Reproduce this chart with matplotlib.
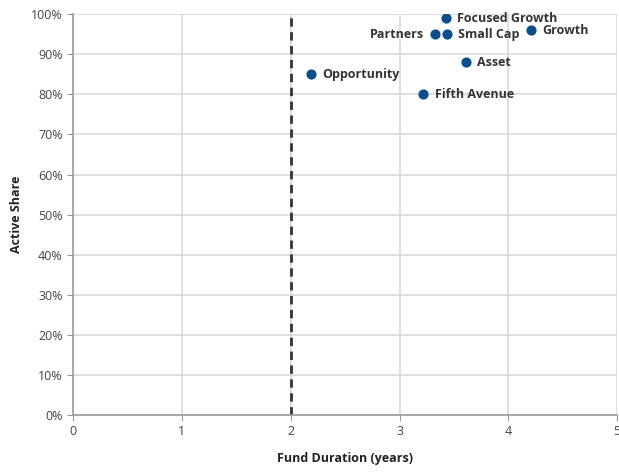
import matplotlib
matplotlib.use("Agg")
import matplotlib.pyplot as plt
from matplotlib.ticker import PercentFormatter

plt.rcParams['font.family'] = ['Open Sans', 'DejaVu Sans']

# Fonds : durée (années) et part active (%)
funds = ['Focused Growth', 'Partners', 'Small Cap', 'Growth', 'Asset', 'Opportunity', 'Fifth Avenue']
duration = [3.43, 3.33, 3.44, 4.21, 3.61, 2.19, 3.22]
active_share = [99, 95, 95, 96, 88, 85, 80]
label_left = ['Partners']

fig = plt.figure(figsize=(6.19, 4.73), dpi=100)
ax = fig.add_axes([0.118, 0.1226, 0.879, 0.8474])

ax.scatter(duration, active_share, s=40, color='#0b4f8a', zorder=3)
ax.axvline(2, color='#333333', linestyle=(0, (3, 2)), linewidth=2, zorder=2)

for name, xv, yv in zip(funds, duration, active_share):
    if name in label_left:
        ax.annotate(name, (xv, yv), xytext=(-8, 0), textcoords='offset points',
                    ha='right', va='center', fontsize=9, fontweight='bold', color='#333333')
    else:
        ax.annotate(name, (xv, yv), xytext=(8, 0), textcoords='offset points',
                    ha='left', va='center', fontsize=9, fontweight='bold', color='#333333')

ax.set_xlim(0, 5)
ax.set_ylim(0, 100)
ax.set_xticks(range(0, 6))
ax.set_yticks(range(0, 101, 10))
ax.yaxis.set_major_formatter(PercentFormatter(decimals=0))
ax.grid(True, color='#d9d9d9', linewidth=1.2)
ax.set_axisbelow(True)

for s in ['top', 'right']:
    ax.spines[s].set_visible(False)
for s in ['left', 'bottom']:
    ax.spines[s].set_color('#999999')
    ax.spines[s].set_linewidth(1.2)
ax.tick_params(colors='#999999', labelcolor='#444444', labelsize=9, length=4)

ax.set_xlabel('Fund Duration (years)', fontsize=9, fontweight='bold', color='#222222', labelpad=10)
ax.set_ylabel('Active Share', fontsize=9, fontweight='bold', color='#222222', labelpad=6)

fig.savefig('out.png', dpi=100)
